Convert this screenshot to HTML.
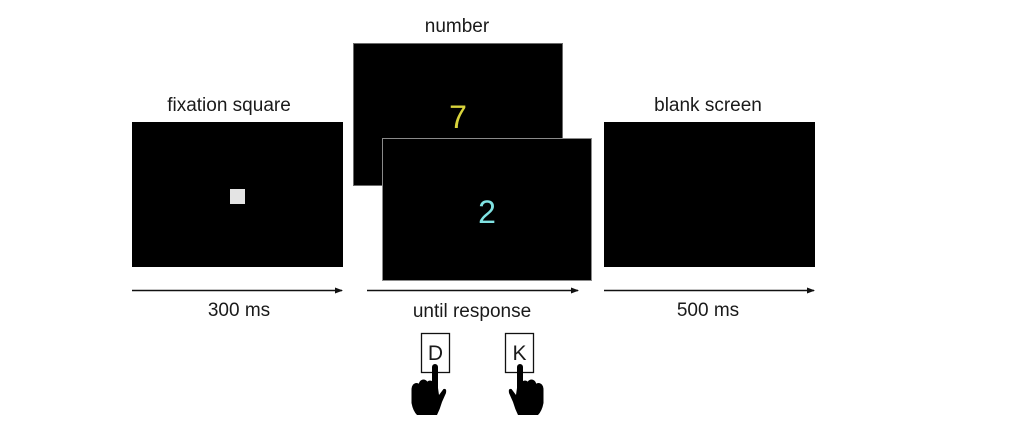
<!DOCTYPE html>
<html>
<head>
<meta charset="utf-8">
<style>
  html, body { margin: 0; padding: 0; background: #ffffff; }
  body { width: 1024px; height: 438px; overflow: hidden; }
  svg { display: block; }
  text { font-family: "Liberation Sans", sans-serif; fill: #1a1a1a; }
</style>
</head>
<body>
<svg width="1024" height="438" viewBox="0 0 1024 438" xmlns="http://www.w3.org/2000/svg">
  <defs>
    <marker id="ah" markerWidth="8" markerHeight="6" refX="7" refY="3" orient="auto" markerUnits="userSpaceOnUse">
      <path d="M0,0 L8,3 L0,6 Z" fill="#111"/>
    </marker>
    <g id="hand">
      <!-- index finger -->
      <rect x="432" y="364" width="6" height="34" rx="3" fill="#000"/>
      <!-- curled finger knuckles -->
      <ellipse cx="416.5" cy="389" rx="5" ry="6" fill="#000"/>
      <ellipse cx="423.5" cy="385.5" rx="5" ry="6" fill="#000"/>
      <ellipse cx="430" cy="386" rx="4.5" ry="5.5" fill="#000"/>
      <!-- palm -->
      <path d="M411.5 390 L411.5 403 Q413 411 417 415 L437 415 Q440 409 442 402 L446 393 Q447 388 443.5 389 L439 395 L438 388 L412 388 Z" fill="#000"/>
    </g>
  </defs>

  <!-- labels top -->
  <text x="229" y="111" font-size="19" text-anchor="middle">fixation square</text>
  <text x="457" y="32" font-size="19" text-anchor="middle">number</text>
  <text x="708" y="111" font-size="19" text-anchor="middle">blank screen</text>

  <!-- fixation screen -->
  <rect x="132" y="122" width="211" height="145" fill="#000"/>
  <rect x="230" y="189" width="15" height="15" fill="#e4e4e4"/>

  <!-- number screens -->
  <rect x="353.5" y="43.5" width="209" height="142" fill="#000" stroke="#6a6a6a" stroke-width="1"/>
  <text x="458" y="128" font-size="32" text-anchor="middle" style="fill:#d9d43c">7</text>
  <rect x="382.5" y="138.5" width="209" height="142" fill="#000" stroke="#8a8a8a" stroke-width="1"/>
  <text x="487" y="223" font-size="32" text-anchor="middle" style="fill:#80e2e2">2</text>

  <!-- blank screen -->
  <rect x="604" y="122" width="211" height="145" fill="#000"/>

  <!-- arrows -->
  <line x1="132" y1="290.5" x2="342" y2="290.5" stroke="#111" stroke-width="1.4" marker-end="url(#ah)"/>
  <line x1="367" y1="290.5" x2="578" y2="290.5" stroke="#111" stroke-width="1.4" marker-end="url(#ah)"/>
  <line x1="604" y1="290.5" x2="814" y2="290.5" stroke="#111" stroke-width="1.4" marker-end="url(#ah)"/>

  <!-- duration labels -->
  <text x="239" y="316" font-size="19" text-anchor="middle">300 ms</text>
  <text x="472" y="317" font-size="19" text-anchor="middle">until response</text>
  <text x="708" y="316" font-size="19" text-anchor="middle">500 ms</text>

  <!-- keys -->
  <rect x="421.5" y="333.5" width="28" height="39" fill="#fff" stroke="#111" stroke-width="1.3"/>
  <text x="435.5" y="360" font-size="21" text-anchor="middle">D</text>
  <rect x="505.5" y="333.5" width="28" height="39" fill="#fff" stroke="#111" stroke-width="1.3"/>
  <text x="519.5" y="360" font-size="21" text-anchor="middle">K</text>

  <!-- hands -->
  <use href="#hand"/>
  <use href="#hand" transform="translate(955,0) scale(-1,1)"/>
</svg>
</body>
</html>
